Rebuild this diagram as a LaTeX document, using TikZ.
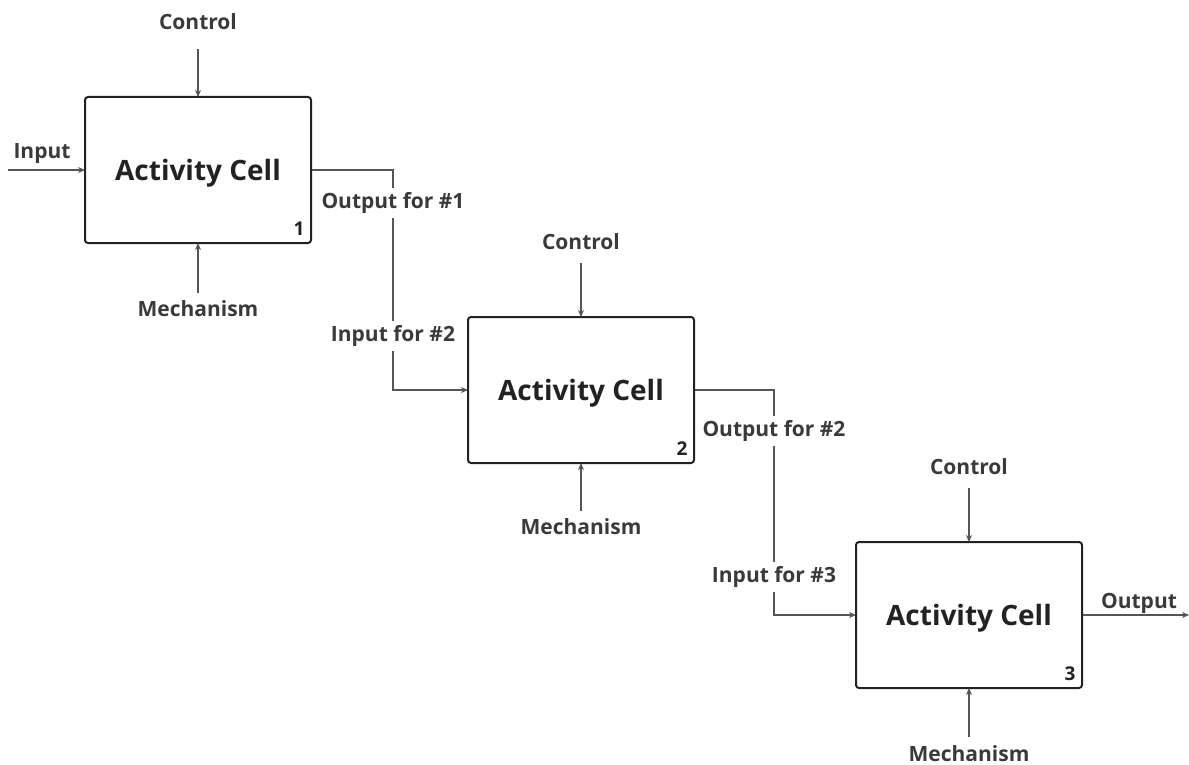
\documentclass[tikz,border=0pt]{standalone}
\usepackage{fontspec}
\setmainfont{Open Sans}
\usetikzlibrary{arrows.meta}
\definecolor{ink}{HTML}{222222}
\definecolor{lbl}{HTML}{3A3A3A}
\definecolor{wire}{HTML}{555555}
\tikzset{
  cell/.style={draw=ink, line width=2pt, rounded corners=3pt, fill=white,
    minimum width=226pt, minimum height=146pt, inner sep=0pt, text depth=0pt,
    font=\fontsize{28}{32}\selectfont\bfseries, text=ink},
  num/.style={font=\fontsize{19}{22}\selectfont\bfseries, text=ink, inner sep=0pt},
  lab/.style={font=\fontsize{21}{24}\selectfont\bfseries, text=lbl, inner sep=1pt, text depth=0pt},
  gaplab/.style={lab, fill=white, inner xsep=3pt, inner ysep=4pt, text depth=5pt, yshift=-3pt},
  wire/.style={draw=wire, line width=1.3pt},
  arr/.style={wire, -{Stealth[length=7pt,width=6pt]}, shorten >=-1pt},
}
\begin{document}
\begin{tikzpicture}[x=1pt,y=-1pt]
\useasboundingbox (0,0) rectangle (1189,765);

% activity cells
\node[cell] (b1) at (198,170) {Activity Cell};
\node[cell] (b2) at (581,390) {Activity Cell};
\node[cell] (b3) at (969,615) {Activity Cell};
\node[num] (n1) at (299,229) {1};
\node[num] (n2) at (682,449) {2};
\node[num] (n3) at (1070,674) {3};

% controls and mechanisms
\node[lab] (c1) at (198,22) {Control};
\node[lab] (c2) at (581,242) {Control};
\node[lab] (c3) at (969,467) {Control};
\node[lab] (m1) at (198,309) {Mechanism};
\node[lab] (m2) at (581,527) {Mechanism};
\node[lab] (m3) at (969,754) {Mechanism};
\coordinate (c1s) at (198,49);
\coordinate (c2s) at (581,263);
\coordinate (c3s) at (969,488);
\coordinate (m1s) at (198,293);
\coordinate (m2s) at (581,511);
\coordinate (m3s) at (969,737);
\draw[arr] (c1s) -- (b1.north);
\draw[arr] (c2s) -- (b2.north);
\draw[arr] (c3s) -- (b3.north);
\draw[arr] (m1s) -- (b1.south);
\draw[arr] (m2s) -- (b2.south);
\draw[arr] (m3s) -- (b3.south);

% external input and output
\node[lab] (in) at (42,151) {Input};
\coordinate (ins) at (8,170);
\draw[arr] (ins) -- (b1.west);
\node[lab] (out) at (1139,601) {Output};
\coordinate (oute) at (1189,615);
\draw[arr, shorten >=0pt] (b3.east) -- (oute);

% links between cells
\draw[arr] (b1.east) -| (393,390) -- (b2.west);
\draw[arr] (b2.east) -| (774,615) -- (b3.west);
\node[gaplab] (o1) at (393,200) {Output for \#1};
\node[gaplab] (i2) at (393,333) {Input for \#2};
\node[gaplab] (o2) at (774,428) {Output for \#2};
\node[gaplab] (i3) at (774,574) {Input for \#3};
\end{tikzpicture}
\end{document}
